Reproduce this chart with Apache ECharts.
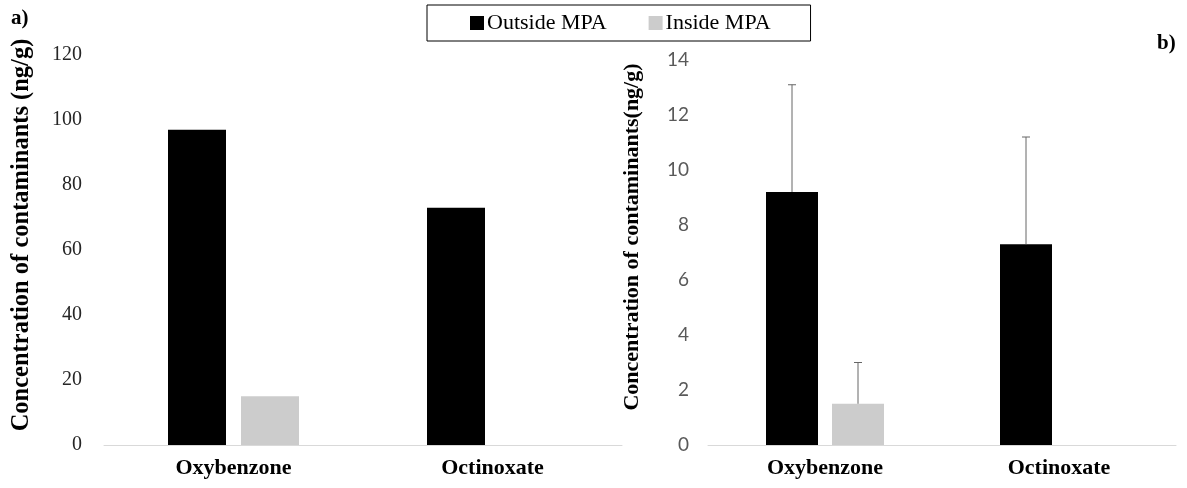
<!DOCTYPE html>
<html>
<head>
<meta charset="utf-8">
<script src="https://cdn.jsdelivr.net/npm/echarts@6/dist/echarts.min.js"></script>
<style>
  html, body { margin: 0; padding: 0; background: #fff; }
  #chart { width: 1187px; height: 488px; }
</style>
</head>
<body>
<div id="chart"></div>
<script>
// Compounds measured in both panels
const categories = ['Oxybenzone', 'Octinoxate'];
const seriesNames = ['Outside MPA', 'Inside MPA'];

// Panel a) concentrations (ng/g)
const panelAOutside = [97, 73];
const panelAInside = [15, 0];
const panelATicks = [0, 20, 40, 60, 80, 100, 120];

// Panel b) mean concentrations (ng/g) and upward error (ng/g)
const panelBOutside = [9.2, 7.3];
const panelBInside = [1.5, 0];
const panelBOutsideErr = [3.9, 3.9];
const panelBInsideErr = [1.5, null];
const panelBTicks = [0, 2, 4, 6, 8, 10, 12, 14];

const yTitle = ['Concentration of contaminants (ng/g)', 'Concentration of contaminants(ng/g)'];

const SERIF = '"Liberation Serif", "Times New Roman", serif';
const SANS = 'Lato, "Liberation Sans", sans-serif';
const BLACK = '#000000';
const GREY = '#cccccc';

const barWidthA = 58, barGapA = 15;
const barWidthB = 52, barGapB = 14;

const chart = echarts.init(document.getElementById('chart'), null, { renderer: 'canvas' });

// error bar data: [categoryIndex, mean, upper, side(-1 left bar, +1 right bar)]
const errData = [];
categories.forEach((c, i) => {
  if (panelBOutsideErr[i] != null) errData.push([i, panelBOutside[i], panelBOutside[i] + panelBOutsideErr[i], -1]);
  if (panelBInsideErr[i] != null) errData.push([i, panelBInside[i], panelBInside[i] + panelBInsideErr[i], 1]);
});

function xAxisCfg(gridIndex) {
  return {
    type: 'category', gridIndex, data: categories,
    axisLine: { lineStyle: { color: '#d9d9d9', width: 1 } },
    axisTick: { show: false },
    axisLabel: { color: '#000', fontFamily: SERIF, fontWeight: 'bold', fontSize: 22, margin: 12 }
  };
}

const option = {
  backgroundColor: '#ffffff',
  animation: false,
  legend: {
    data: seriesNames,
    left: 427, top: 5,
    padding: [7, 40, 7, 43],
    itemGap: 42,
    itemWidth: 14, itemHeight: 14,
    icon: 'rect',
    borderColor: '#000', borderWidth: 1,
    textStyle: { fontFamily: SERIF, fontSize: 22, color: '#000', padding: [0, 0, 0, -2] }
  },
  grid: [
    { left: 104, right: 565, top: 55, bottom: 43 },
    { left: 708, right: 11, top: 60, bottom: 43 }
  ],
  xAxis: [xAxisCfg(0), xAxisCfg(1)],
  yAxis: [
    {
      type: 'value', gridIndex: 0, min: 0, max: 120, interval: 20,
      axisLine: { show: false }, axisTick: { show: false }, splitLine: { show: false },
      axisLabel: { color: '#262626', fontFamily: SERIF, fontSize: 20, margin: 22 }
    },
    {
      type: 'value', gridIndex: 1, min: 0, max: 14, interval: 2,
      axisLine: { show: false }, axisTick: { show: false }, splitLine: { show: false },
      axisLabel: { color: '#595959', fontFamily: SANS, fontSize: 19, margin: 19 }
    }
  ],
  graphic: [
    { type: 'text', left: 11, top: 8, style: { text: 'a)', font: 'bold 21px ' + SERIF, fill: '#000' } },
    { type: 'text', left: 1157, top: 33, style: { text: 'b)', font: 'bold 21px ' + SERIF, fill: '#000' } },
    { type: 'text', x: 22, y: 235, rotation: Math.PI / 2,
      style: { text: yTitle[0], font: 'bold 24.5px ' + SERIF, fill: '#000', align: 'center', verticalAlign: 'middle' } },
    { type: 'text', x: 632, y: 237, rotation: Math.PI / 2,
      style: { text: yTitle[1], font: 'bold 22px ' + SERIF, fill: '#000', align: 'center', verticalAlign: 'middle' } }
  ],
  series: [
    { name: seriesNames[0], type: 'bar', xAxisIndex: 0, yAxisIndex: 0, data: panelAOutside,
      barWidth: barWidthA, barGap: (barGapA / barWidthA * 100) + '%', itemStyle: { color: BLACK } },
    { name: seriesNames[1], type: 'bar', xAxisIndex: 0, yAxisIndex: 0, data: panelAInside,
      barWidth: barWidthA, itemStyle: { color: GREY } },
    { name: seriesNames[0], type: 'bar', xAxisIndex: 1, yAxisIndex: 1, data: panelBOutside,
      barWidth: barWidthB, barGap: (barGapB / barWidthB * 100) + '%', itemStyle: { color: BLACK } },
    { name: seriesNames[1], type: 'bar', xAxisIndex: 1, yAxisIndex: 1, data: panelBInside,
      barWidth: barWidthB, itemStyle: { color: GREY } },
    {
      type: 'custom', xAxisIndex: 1, yAxisIndex: 1, data: errData, z: 5,
      renderItem: function (params, api) {
        const side = api.value(3);
        const base = api.coord([api.value(0), api.value(1)]);
        const top = api.coord([api.value(0), api.value(2)]);
        const cx = base[0] + side * (barWidthB + barGapB) / 2;
        const cap = 4;
        const style = { stroke: '#666666', lineWidth: 1, fill: null };
        return {
          type: 'group',
          children: [
            { type: 'line', shape: { x1: cx, y1: base[1], x2: cx, y2: top[1] }, style },
            { type: 'line', shape: { x1: cx - cap, y1: top[1], x2: cx + cap, y2: top[1] }, style }
          ]
        };
      }
    }
  ]
};

chart.setOption(option);
</script>
</body>
</html>
